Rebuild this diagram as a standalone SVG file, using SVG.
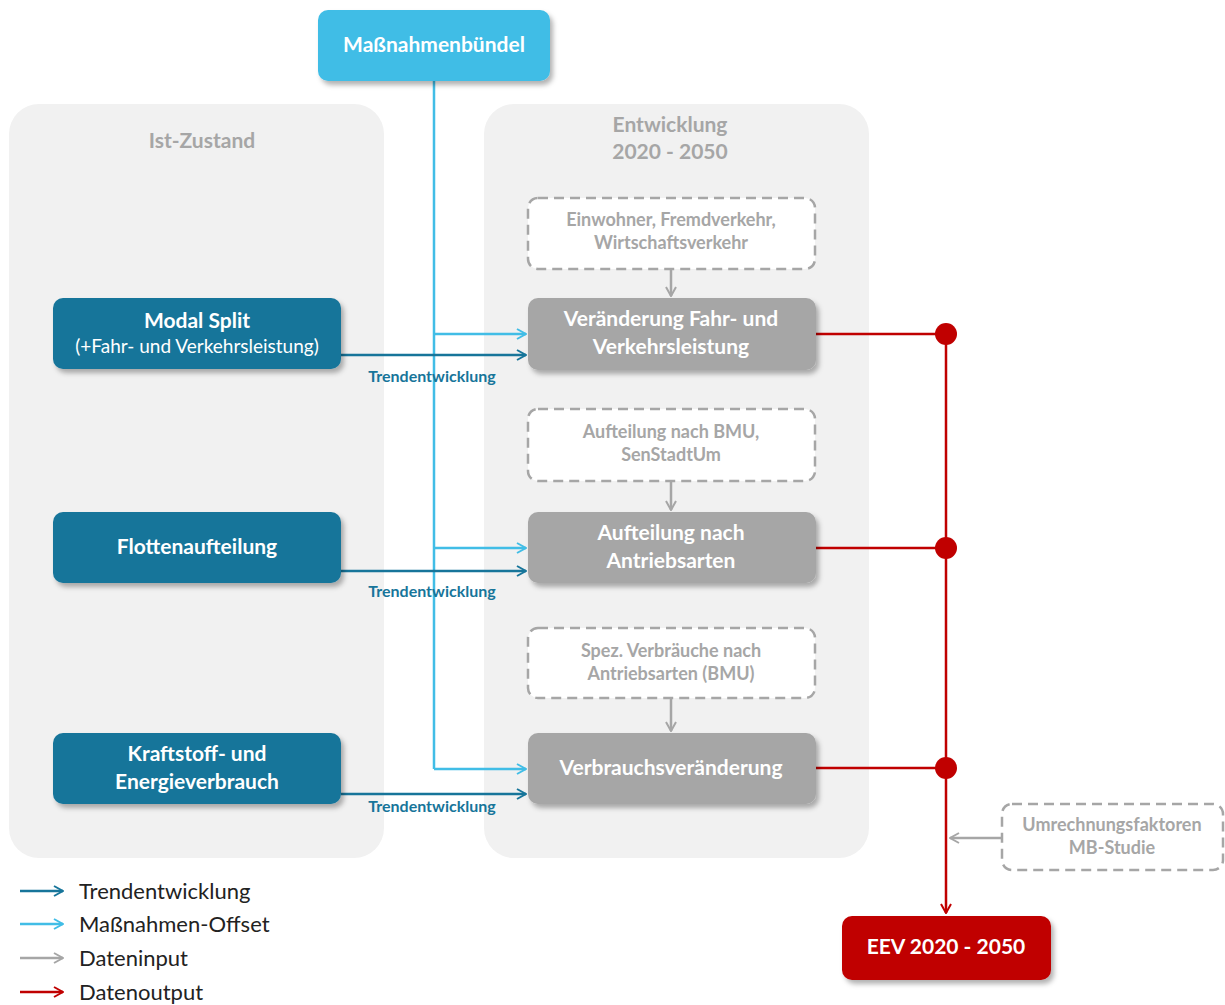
<svg xmlns="http://www.w3.org/2000/svg" width="1225" height="1005" viewBox="0 0 1225 1005">
<defs>
<filter id="sh" x="-10%" y="-10%" width="130%" height="140%">
<feDropShadow dx="3" dy="4" stdDeviation="2.5" flood-color="#000" flood-opacity="0.3"/>
</filter>
<marker id="aTrend" viewBox="0 0 12 12" refX="11" refY="6" markerWidth="12" markerHeight="12" markerUnits="userSpaceOnUse" orient="auto"><path d="M2,1 L11,6 L2,11" fill="none" stroke="#17759A" stroke-width="2"/></marker>
<marker id="aOff" viewBox="0 0 12 12" refX="11" refY="6" markerWidth="12" markerHeight="12" markerUnits="userSpaceOnUse" orient="auto"><path d="M2,1 L11,6 L2,11" fill="none" stroke="#41BDE6" stroke-width="2"/></marker>
<marker id="aIn" viewBox="0 0 12 12" refX="11" refY="6" markerWidth="12" markerHeight="12" markerUnits="userSpaceOnUse" orient="auto"><path d="M2,1 L11,6 L2,11" fill="none" stroke="#A6A6A6" stroke-width="2"/></marker>
<marker id="aOut" viewBox="0 0 12 12" refX="11" refY="6" markerWidth="12" markerHeight="12" markerUnits="userSpaceOnUse" orient="auto"><path d="M2,1 L11,6 L2,11" fill="none" stroke="#C00000" stroke-width="2"/></marker>
</defs>
<style>
text{font-family:"Lato","Liberation Sans",sans-serif;}
.panel{fill:#F1F1F1;}
.ptitle{fill:#A6A6A6;font-weight:bold;font-size:21px;text-anchor:middle;}
.blue{fill:#17759A;filter:url(#sh);}
.gray{fill:#A6A6A6;filter:url(#sh);}
.dash{fill:#fff;stroke:#A6A6A6;stroke-width:2.5;stroke-dasharray:10 6;}
.wt{fill:#fff;font-weight:bold;font-size:21px;text-anchor:middle;}
.wts{fill:#fff;font-size:19px;text-anchor:middle;}
.gt{fill:#A6A6A6;font-weight:bold;font-size:18px;text-anchor:middle;}
.trend{fill:none;stroke:#17759A;stroke-width:2.5;marker-end:url(#aTrend);}
.off{fill:none;stroke:#41BDE6;stroke-width:2.5;}
.in{fill:none;stroke:#A6A6A6;stroke-width:2.5;marker-end:url(#aIn);}
.out{fill:none;stroke:#C00000;stroke-width:2.5;}
.tl{fill:#17759A;font-weight:bold;font-size:16px;text-anchor:middle;}
.leg{fill:#222;font-size:22px;}
</style>
<rect width="1225" height="1005" fill="#fff"/>
<g id="panel-ist"><rect class="panel" x="9" y="104" width="375" height="754" rx="30"/><text class="ptitle" x="202" y="148">Ist-Zustand</text></g>
<g id="panel-entwicklung"><rect class="panel" x="484" y="104" width="385" height="754" rx="30"/><text class="ptitle" x="670" y="132">Entwicklung</text><text class="ptitle" x="670" y="159">2020 - 2050</text></g>

<g id="connectors">
<path class="off" d="M434,80 V769"/>
<path class="off" d="M434,334 H526" marker-end="url(#aOff)"/>
<path class="off" d="M434,548 H526" marker-end="url(#aOff)"/>
<path class="off" d="M434,769 H526" marker-end="url(#aOff)"/>
<path class="trend" d="M341,355 H526"/>
<path class="trend" d="M341,571 H526"/>
<path class="trend" d="M341,794 H526"/>
<text class="tl" x="432" y="382">Trendentwicklung</text>
<text class="tl" x="432" y="597">Trendentwicklung</text>
<text class="tl" x="432" y="812">Trendentwicklung</text>
<path class="in" d="M671,269 V296"/>
<path class="in" d="M671,481 V510"/>
<path class="in" d="M671,698 V731"/>
<path class="in" d="M1002,838 H950"/>
<path class="out" d="M816,334 H946"/>
<path class="out" d="M816,548 H946"/>
<path class="out" d="M816,768 H946"/>
<path class="out" d="M946,334 V913" marker-end="url(#aOut)"/>
<circle cx="946" cy="334" r="11" fill="#C00000"/>
<circle cx="946" cy="548" r="11" fill="#C00000"/>
<circle cx="946" cy="768" r="11" fill="#C00000"/>
</g>

<g id="massnahmenbuendel"><rect x="318" y="10" width="232" height="71" rx="10" fill="#41BDE6" filter="url(#sh)"/><text class="wt" x="434" y="52">Maßnahmenbündel</text></g>

<g id="modal-split"><rect class="blue" x="53" y="298" width="288" height="71" rx="10"/><text class="wt" x="197" y="328">Modal Split</text><text class="wts" x="197" y="353">(+Fahr- und Verkehrsleistung)</text></g>
<g id="flottenaufteilung"><rect class="blue" x="53" y="512" width="288" height="71" rx="10"/><text class="wt" x="197" y="554">Flottenaufteilung</text></g>
<g id="kraftstoff"><rect class="blue" x="53" y="733" width="288" height="71" rx="10"/><text class="wt" x="197" y="761">Kraftstoff- und</text><text class="wt" x="197" y="789">Energieverbrauch</text></g>

<g id="input-einwohner"><rect class="dash" x="528" y="198" width="287" height="71" rx="10"/><text class="gt" x="671" y="226">Einwohner, Fremdverkehr,</text><text class="gt" x="671" y="249">Wirtschaftsverkehr</text></g>
<g id="veraenderung"><rect class="gray" x="528" y="298" width="288" height="72" rx="10"/><text class="wt" x="671" y="326">Veränderung Fahr- und</text><text class="wt" x="671" y="354">Verkehrsleistung</text></g>

<g id="input-bmu"><rect class="dash" x="528" y="409" width="287" height="72" rx="10"/><text class="gt" x="671" y="438">Aufteilung nach BMU,</text><text class="gt" x="671" y="461">SenStadtUm</text></g>
<g id="aufteilung"><rect class="gray" x="528" y="512" width="288" height="71" rx="10"/><text class="wt" x="671" y="540">Aufteilung nach</text><text class="wt" x="671" y="568">Antriebsarten</text></g>

<g id="input-verbraeuche"><rect class="dash" x="528" y="628" width="287" height="70" rx="10"/><text class="gt" x="671" y="657">Spez. Verbräuche nach</text><text class="gt" x="671" y="680">Antriebsarten (BMU)</text></g>
<g id="verbrauchsveraenderung"><rect class="gray" x="528" y="733" width="288" height="71" rx="10"/><text class="wt" x="671" y="775">Verbrauchsveränderung</text></g>

<g id="input-umrechnung"><rect class="dash" x="1002" y="804" width="221" height="66" rx="10"/><text class="gt" x="1112" y="831">Umrechnungsfaktoren</text><text class="gt" x="1112" y="854">MB-Studie</text></g>
<g id="eev"><rect x="842" y="916" width="209" height="64" rx="10" fill="#C00000" filter="url(#sh)"/><text class="wt" x="946" y="954">EEV 2020 - 2050</text></g>

<g id="legend">
<path class="trend" d="M20,891 H63"/><text class="leg" x="79" y="899">Trendentwicklung</text>
<path class="off" d="M20,924 H63" marker-end="url(#aOff)"/><text class="leg" x="79" y="932">Maßnahmen-Offset</text>
<path class="in" d="M20,958 H63"/><text class="leg" x="79" y="966">Dateninput</text>
<path class="out" d="M20,992 H63" marker-end="url(#aOut)"/><text class="leg" x="79" y="1000">Datenoutput</text>
</g>
</svg>
